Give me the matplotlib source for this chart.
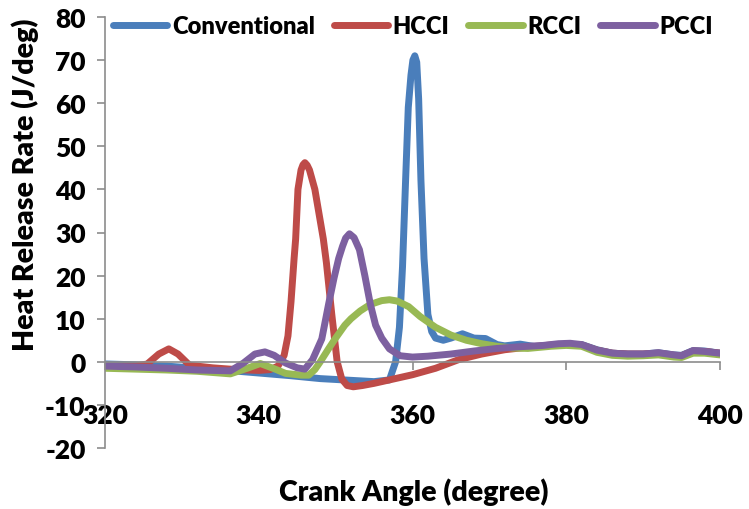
import matplotlib
matplotlib.use('Agg')
import matplotlib.pyplot as plt

matplotlib.rcParams['font.family'] = 'Lato'
matplotlib.rcParams['font.weight'] = 'heavy'
matplotlib.rcParams['axes.unicode_minus'] = False

# 열방출률 데이터 (crank angle, J/deg)
ang_conv = [320, 324, 328, 332, 336, 340, 344, 348, 352, 355, 357, 357.8, 358.3, 358.7,
            359.1, 359.45, 359.8, 360.05, 360.3, 360.55, 360.8, 361.1, 361.5, 362, 362.5,
            363, 364, 365, 366.5, 368, 369.5, 371, 372, 374, 376, 378, 380, 382, 384, 386,
            388, 390, 392, 394, 395, 396.5, 398, 400]
hrr_conv = [-0.5, -0.7, -1, -1.5, -2, -2.6, -3.2, -3.9, -4.3, -4.6, -4.2, 0, 8, 22,
            42, 59, 66.5, 70, 71, 69.5, 61, 42, 24, 11, 7,
            5.5, 5, 5.5, 6.5, 5.5, 5.4, 4, 3.7, 4.1, 3.5, 3.8, 4, 4, 2.8, 2,
            1.8, 1.8, 2.1, 1.6, 1.5, 2.6, 2.5, 2]

ang_hcci = [320, 324, 325.5, 327, 328.3, 329.5, 331, 334, 337, 340, 341.5, 342.5, 343.3,
            343.8, 344.2, 344.6, 344.8, 345.1, 345.5, 345.75, 346, 346.3, 346.6, 347.3,
            348.4, 348.8, 349.5, 350.2, 350.8, 351.5, 352.3, 353.5, 355, 357, 360, 363,
            366, 369, 372, 375, 378, 380, 382, 384, 386, 388, 390, 392, 394, 395, 396.5,
            398, 400]
hrr_hcci = [-1, -1, -0.5, 1.8, 3, 1.8, -0.8, -1.4, -1.8, -2, -1.8, -1, 1.5,
            6, 14, 24, 28.5, 40, 44.5, 45.7, 46.2, 45.6, 44.5, 40,
            28.5, 23, 11, 0, -4, -5.5, -5.8, -5.5, -5, -4.2, -3, -1.5,
            0.5, 1.8, 2.8, 3.4, 3.9, 4, 3.9, 2.7, 2, 1.8, 1.8, 2, 1.5, 1.4, 2.5,
            2.4, 2]

ang_rcci = [320, 324, 328, 332, 336.3, 338.5, 340.2, 342, 343.5, 345.5, 346.5, 347.3, 348,
            349, 350, 351.2, 352, 353.2, 354.5, 356, 357, 358, 359.5, 361, 363, 365, 367,
            369, 371, 373, 375, 378, 380, 382, 384, 386, 388, 390, 392, 394, 395, 396.5,
            398, 400]
hrr_rcci = [-1.5, -1.7, -1.9, -2.2, -2.8, -1.5, -0.4, -1.6, -2.7, -3.1, -3.1, -1.8, 0,
            2.8, 5.5, 8.5, 10, 11.8, 13.3, 14.2, 14.4, 14.1, 12.8, 10.5, 8, 6.2, 5,
            4.2, 3.6, 3.2, 3.1, 3.6, 3.8, 3.6, 2.2, 1.5, 1.3, 1.4, 1.6, 1.1, 1, 2,
            2, 1.6]

ang_pcci = [320, 324, 328, 332, 336.3, 338, 339.5, 340.8, 342, 343.5, 345, 346, 347,
            348.2, 349.1, 349.8, 350.4, 350.9, 351.3, 351.8, 352.4, 353.1, 353.8, 354.5,
            355.2, 356, 357, 358.4, 360, 362, 365, 368, 371, 374, 377, 379, 380.5, 382,
            384, 386, 388, 390, 392, 394, 395, 396.5, 398, 400]
hrr_pcci = [-1, -1.2, -1.5, -1.9, -2.1, -0.3, 1.8, 2.3, 1.5, -0.3, -1.4, -1.7, 0.5,
            5.3, 13.5, 19.5, 24, 26.8, 28.7, 29.7, 28.8, 26, 20, 13.5,
            8.5, 5.5, 3, 1.4, 1.1, 1.3, 1.8, 2.5, 3.1, 3.5, 3.8, 4.2, 4.3, 4,
            2.7, 2, 1.8, 1.8, 2.1, 1.6, 1.4, 2.6, 2.4, 2]

labels = ['Conventional', 'HCCI', 'RCCI', 'PCCI']
colors = ['#4a7ebb', '#be4b48', '#98b954', '#7d60a0']

fig = plt.figure(figsize=(7.49, 5.10), dpi=100)
ax = fig.add_axes([105 / 749, 1 - 449 / 510, 615 / 749, 431 / 510])

series = [(ang_conv, hrr_conv), (ang_hcci, hrr_hcci), (ang_rcci, hrr_rcci), (ang_pcci, hrr_pcci)]
for (x, y), lab, c in zip(series, labels, colors):
    ax.plot(x, y, color=c, lw=5, label=lab, solid_capstyle='round', solid_joinstyle='round')

ax.set_xlim(320, 400)
ax.set_ylim(-20, 80)
ax.set_xticks(range(320, 401, 20))
ax.set_yticks(range(-20, 81, 10))

# 축 스타일 (x축은 0 위치)
for s in ['top', 'right']:
    ax.spines[s].set_visible(False)
ax.spines['bottom'].set_position(('data', 0))
for s in ['left', 'bottom']:
    ax.spines[s].set_color('#8c8c8c')
    ax.spines[s].set_linewidth(1.2)
ax.tick_params(axis='both', colors='#8c8c8c', width=1.2, length=6, labelsize=19,
               labelcolor='black')
ax.tick_params(axis='x', pad=24)
ax.tick_params(axis='y', pad=8)

fig.text(25 / 749, 1 - 185 / 510, 'Heat Release Rate (J/deg)', rotation=90,
         ha='center', va='center', fontsize=20.5, fontweight='heavy')
fig.text(414 / 749, 1 - 492 / 510, 'Crank Angle (degree)',
         ha='center', va='center', fontsize=20.5, fontweight='heavy')

fig.legend(loc='upper left', bbox_to_anchor=(113 / 749, 1 - 16 / 510), ncol=4,
           frameon=False, fontsize=17, handlelength=2.3, handletextpad=0.2,
           columnspacing=0.8, borderpad=0, borderaxespad=0)

fig.savefig('out.png', dpi=100)
